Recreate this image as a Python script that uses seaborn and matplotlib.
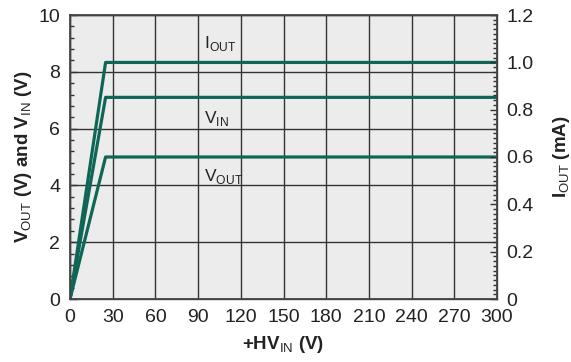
import matplotlib
matplotlib.use("Agg")
import matplotlib.pyplot as plt
import seaborn as sns
import pandas as pd
from matplotlib.ticker import MultipleLocator

# Data
hv_in = [0, 25, 300]
v_out = [0, 5.0, 5.0]
v_in = [0, 7.1, 7.1]
i_out_v_scale = [0, 8.33, 8.33]  # I_OUT (1.0 mA) plotted on left scale (1.2 mA = 10 V)
series_names = ["V_OUT", "V_IN", "I_OUT"]
x_ticks = [0, 30, 60, 90, 120, 150, 180, 210, 240, 270, 300]

sns.set_theme(style="white")
plt.rcParams['font.family'] = ['Liberation Sans', 'DejaVu Sans']
plt.rcParams['mathtext.fontset'] = 'custom'
plt.rcParams['mathtext.rm'] = 'Liberation Sans'
plt.rcParams['mathtext.bf'] = 'Liberation Sans:bold'

df = pd.DataFrame({
    "x": hv_in * 3,
    "y": v_out + v_in + i_out_v_scale,
    "s": [series_names[0]] * 3 + [series_names[1]] * 3 + [series_names[2]] * 3,
})

fig = plt.figure(figsize=(5.71, 3.62), dpi=100)
ax = fig.add_axes([70 / 571, 1 - 299 / 362, 427 / 571, 284 / 362])
ax.set_facecolor("#ececec")
teal = "#0f6657"
sns.lineplot(data=df, x="x", y="y", hue="s", palette=[teal] * 3, lw=2.3,
             legend=False, ax=ax, zorder=3)

ax.set_xlim(0, 300)
ax.set_ylim(0, 10)
ax.set_xticks(x_ticks)
ax.set_xticklabels([str(t) for t in x_ticks])
ax.set_yticks([0, 2, 4, 6, 8, 10])
ax.xaxis.set_minor_locator(MultipleLocator(10))
ax.yaxis.set_minor_locator(MultipleLocator(0.4))
ax.grid(True, which="major", color="#333333", lw=1.0)
ax.set_axisbelow(True)
for sp in ax.spines.values():
    sp.set_color("#444444")
    sp.set_linewidth(1.0)
ax.tick_params(which="both", direction="in", color="#333333", labelsize=14,
               labelcolor="#222222", pad=7)
ax.tick_params(which="major", length=5, width=1)
ax.tick_params(which="minor", length=3, width=1)
ax.tick_params(axis="y", right=False)

ax.set_xlabel(r"$\mathbf{+HV}_{\mathrm{IN}}$ (V)", fontsize=13.5, fontweight="bold",
              color="#222222", labelpad=6)
ax.set_ylabel(r"$\mathbf{V}_{\mathrm{OUT}}$ (V) and $\mathbf{V}_{\mathrm{IN}}$ (V)",
              fontsize=13.5, fontweight="bold", color="#222222", labelpad=3)

ax2 = ax.twinx()
ax2.set_ylim(0, 1.2)
ax2.set_yticks([0, 0.2, 0.4, 0.6, 0.8, 1.0, 1.2])
ax2.set_yticklabels(["0", "0.2", "0.4", "0.6", "0.8", "1.0", "1.2"])
ax2.yaxis.set_minor_locator(MultipleLocator(0.02))
ax2.tick_params(which="both", direction="in", color="#333333", labelsize=14,
                labelcolor="#222222", pad=7)
ax2.tick_params(which="major", length=5, width=1)
ax2.tick_params(which="minor", length=3, width=1)
for sp in ax2.spines.values():
    sp.set_color("#444444")
ax2.set_ylabel(r"$\mathbf{I}_{\mathrm{OUT}}$ (mA)", fontsize=13.5, fontweight="bold",
               color="#222222", labelpad=12)

ax.text(94, 8.85, r"I$_{\mathrm{OUT}}$", fontsize=12.5, color="#222222")
ax.text(94, 6.2, r"V$_{\mathrm{IN}}$", fontsize=12.5, color="#222222")
ax.text(94, 4.15, r"V$_{\mathrm{OUT}}$", fontsize=12.5, color="#222222")

fig.savefig("out.png", dpi=100)
